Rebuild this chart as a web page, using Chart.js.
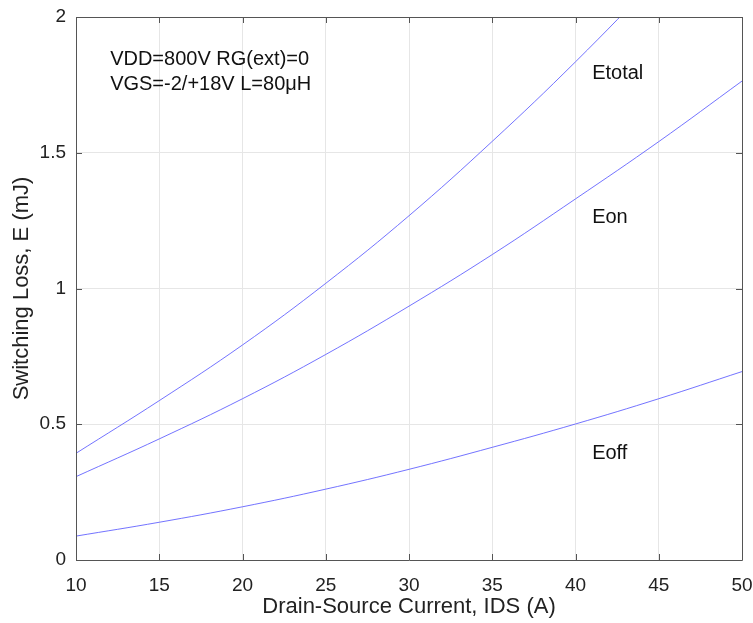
<!DOCTYPE html>
<html>
<head>
<meta charset="utf-8">
<script src="https://cdn.jsdelivr.net/npm/chart.js@4/dist/chart.umd.min.js"></script>
<style>
  html, body { margin: 0; padding: 0; background: #fff; }
  #wrap { width: 753px; height: 623px; }
</style>
</head>
<body>
<div id="wrap"><canvas id="c" width="753" height="623"></canvas></div>
<script>
// ---- data ----
const currentA = [10, 15, 20, 25, 30, 35, 40, 45, 50];
const eTotal   = [0.393, 0.587, 0.792, 1.019, 1.268, 1.542, 1.835, 2.150, 2.480];
const eOn      = [0.307, 0.446, 0.594, 0.757, 0.935, 1.125, 1.330, 1.541, 1.764];
const eOff     = [0.088, 0.139, 0.196, 0.261, 0.334, 0.415, 0.501, 0.594, 0.694];
const xTicks   = [10, 15, 20, 25, 30, 35, 40, 45, 50];
const yTicks   = [0, 0.5, 1, 1.5, 2];
const curveLabels = [
  { text: 'Etotal', x: 41.0, y: 1.792 },
  { text: 'Eon',    x: 41.0, y: 1.263 },
  { text: 'Eoff',   x: 41.0, y: 0.394 }
];
const noteLines = [
  { text: 'VDD=800V RG(ext)=0',   x: 12.05, y: 1.845 },
  { text: 'VGS=-2/+18V L=80\u03BCH', x: 12.05, y: 1.753 }
];

const FONT = '"Liberation Sans", Arial, Helvetica, sans-serif';
const lineColor = 'rgba(90,90,255,0.85)';

function toPts(ys) { return currentA.map((x, i) => ({ x: x, y: ys[i] })); }

const boxPlugin = {
  id: 'boxTicks',
  afterDraw(chart) {
    const { ctx, chartArea: a, scales } = chart;
    const xs = scales.x, ys = scales.y;
    ctx.save();
    ctx.fillStyle = '#111';
    ctx.font = '20px ' + FONT;
    ctx.textAlign = 'left';
    ctx.textBaseline = 'middle';
    curveLabels.concat(noteLines).forEach(l => {
      ctx.fillText(l.text, xs.getPixelForValue(l.x), ys.getPixelForValue(l.y));
    });
    ctx.strokeStyle = '#555';
    ctx.lineWidth = 1;
    ctx.beginPath();
    ctx.rect(Math.round(a.left) + 0.5, Math.round(a.top) + 0.5,
             Math.round(a.right - a.left), Math.round(a.bottom - a.top));
    ctx.stroke();
    const tl = 6;
    ctx.beginPath();
    xTicks.forEach(v => {
      const px = Math.round(xs.getPixelForValue(v)) + 0.5;
      ctx.moveTo(px, a.bottom); ctx.lineTo(px, a.bottom - tl);
      ctx.moveTo(px, a.top); ctx.lineTo(px, a.top + tl);
    });
    yTicks.forEach(v => {
      const py = Math.round(ys.getPixelForValue(v)) + 0.5;
      ctx.moveTo(a.left, py); ctx.lineTo(a.left + tl, py);
      ctx.moveTo(a.right, py); ctx.lineTo(a.right - tl, py);
    });
    ctx.stroke();
    ctx.restore();
  }
};

const dsStyle = {
  borderColor: lineColor,
  backgroundColor: lineColor,
  borderWidth: 1,
  pointRadius: 0,
  fill: false,
  tension: 0.4
};

new Chart(document.getElementById('c'), {
  type: 'line',
  data: {
    datasets: [
      Object.assign({ label: 'Etotal', data: toPts(eTotal) }, dsStyle),
      Object.assign({ label: 'Eon',    data: toPts(eOn) }, dsStyle),
      Object.assign({ label: 'Eoff',   data: toPts(eOff) }, dsStyle)
    ]
  },
  options: {
    responsive: false,
    animation: false,
    devicePixelRatio: 1,
    layout: { padding: { top: 17, right: 11, left: 0, bottom: 0 } },
    plugins: { legend: { display: false }, tooltip: { enabled: false } },
    scales: {
      x: {
        type: 'linear', min: 10, max: 50,
        afterBuildTicks(s) { s.ticks = xTicks.map(v => ({ value: v })); },
        afterFit(s) { s.height = 63; s.paddingLeft = 0; s.paddingRight = 0; },
        grid: { color: '#e6e6e6', drawTicks: false },
        border: { display: false },
        ticks: { color: '#222', font: { family: FONT, size: 19 }, padding: 14, maxRotation: 0,
                 callback: v => String(v) },
        title: { display: true, text: 'Drain-Source Current, IDS (A)', color: '#222',
                 font: { family: FONT, size: 22 }, padding: { top: 0, bottom: 3 } }
      },
      y: {
        type: 'linear', min: 0, max: 2,
        afterBuildTicks(s) { s.ticks = yTicks.map(v => ({ value: v })); },
        afterFit(s) { s.width = 76; s.paddingTop = 0; s.paddingBottom = 0; },
        grid: { color: '#e6e6e6', drawTicks: false },
        border: { display: false },
        ticks: { color: '#222', font: { family: FONT, size: 19 }, padding: 10,
                 callback: v => String(v) },
        title: { display: true, text: 'Switching Loss, E (mJ)', color: '#222',
                 font: { family: FONT, size: 22 }, padding: { top: 9, bottom: 0 } }
      }
    }
  },
  plugins: [boxPlugin]
});
</script>
</body>
</html>
